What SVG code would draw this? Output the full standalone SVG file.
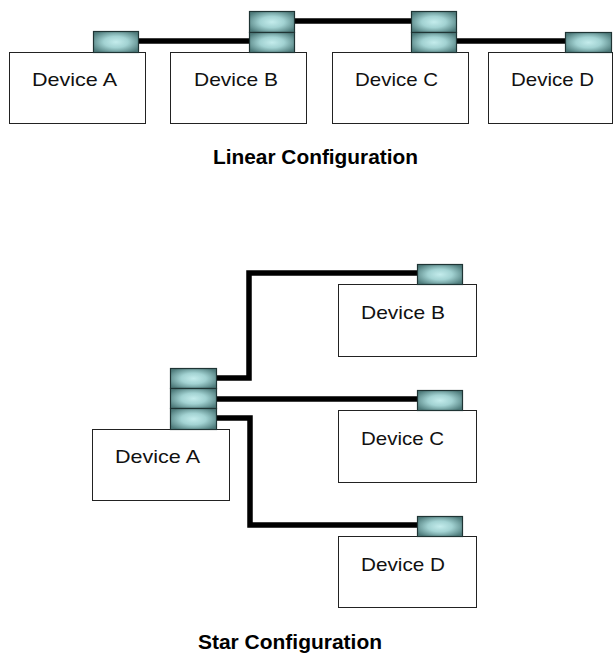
<svg xmlns="http://www.w3.org/2000/svg" width="616" height="653" viewBox="0 0 616 653">
<defs>
<radialGradient id="pg" cx="0.5" cy="0.5" r="0.6">
<stop offset="0" stop-color="#c4ecec"/>
<stop offset="0.45" stop-color="#a2d2d2"/>
<stop offset="1" stop-color="#4f7c7c"/>
</radialGradient>
</defs>
<style>
.box{fill:#fff;stroke:#222;stroke-width:1}
.port{fill:url(#pg);stroke:#1f3434;stroke-width:1.2}
.lbl{font-family:"Liberation Sans",Arial,sans-serif;font-size:19px;fill:#111}
.ttl{font-family:"Liberation Sans",Arial,sans-serif;font-size:21px;font-weight:bold;fill:#000}
.wire{fill:none;stroke:#000;stroke-width:5.5;stroke-linejoin:miter}
</style>
<rect width="616" height="653" fill="#fff"/>
<g id="connectors">
<line class="wire" x1="138" y1="41" x2="249" y2="41"/>
<line class="wire" x1="294" y1="21" x2="411" y2="21"/>
<line class="wire" x1="456" y1="41" x2="565" y2="41"/>
<polyline class="wire" points="217,378 249,378 249,273 417,273"/>
<line class="wire" x1="217" y1="399" x2="418" y2="399"/>
<polyline class="wire" points="217,418 250,418 250,525 417,525"/>
</g>
<g id="linA">
<rect class="box" x="9.5" y="52.5" width="136" height="71"/>
<rect class="port" x="93.5" y="31.5" width="45" height="21"/>
<text class="lbl" x="32" y="86" textLength="85" lengthAdjust="spacingAndGlyphs">Device A</text>
</g>
<g id="linB">
<rect class="box" x="170.5" y="52.5" width="136" height="71"/>
<rect class="port" x="249.5" y="11.5" width="45" height="21"/>
<rect class="port" x="249.5" y="32.5" width="45" height="20"/>
<text class="lbl" x="194" y="86" textLength="84" lengthAdjust="spacingAndGlyphs">Device B</text>
</g>
<g id="linC">
<rect class="box" x="332.5" y="52.5" width="136" height="71"/>
<rect class="port" x="411.5" y="11.5" width="45" height="21"/>
<rect class="port" x="411.5" y="32.5" width="45" height="20"/>
<text class="lbl" x="355" y="86" textLength="83" lengthAdjust="spacingAndGlyphs">Device C</text>
</g>
<g id="linD">
<rect class="box" x="488.5" y="52.5" width="124" height="71"/>
<rect class="port" x="565.5" y="32.5" width="46" height="20"/>
<text class="lbl" x="511" y="86" textLength="83" lengthAdjust="spacingAndGlyphs">Device D</text>
</g>
<g id="linTitle">
<text class="ttl" x="213" y="164" textLength="205" lengthAdjust="spacingAndGlyphs">Linear Configuration</text>
</g>
<g id="starA">
<rect class="box" x="92.5" y="429.5" width="137" height="71"/>
<rect class="port" x="170.5" y="368.5" width="46" height="20"/>
<rect class="port" x="170.5" y="388.5" width="46" height="20"/>
<rect class="port" x="170.5" y="408.5" width="46" height="21"/>
<text class="lbl" x="115" y="463" textLength="85" lengthAdjust="spacingAndGlyphs">Device A</text>
</g>
<g id="starB">
<rect class="box" x="338.5" y="284.5" width="138" height="72"/>
<rect class="port" x="417.5" y="264.5" width="45" height="20"/>
<text class="lbl" x="361" y="319" textLength="84" lengthAdjust="spacingAndGlyphs">Device B</text>
</g>
<g id="starC">
<rect class="box" x="338.5" y="410.5" width="138" height="72"/>
<rect class="port" x="417.5" y="390.5" width="45" height="20"/>
<text class="lbl" x="361" y="445" textLength="83" lengthAdjust="spacingAndGlyphs">Device C</text>
</g>
<g id="starD">
<rect class="box" x="338.5" y="536.5" width="138" height="71"/>
<rect class="port" x="417.5" y="516.5" width="45" height="20"/>
<text class="lbl" x="361" y="571" textLength="84" lengthAdjust="spacingAndGlyphs">Device D</text>
</g>
<g id="starTitle">
<text class="ttl" x="198" y="649" textLength="184" lengthAdjust="spacingAndGlyphs">Star Configuration</text>
</g>
</svg>
